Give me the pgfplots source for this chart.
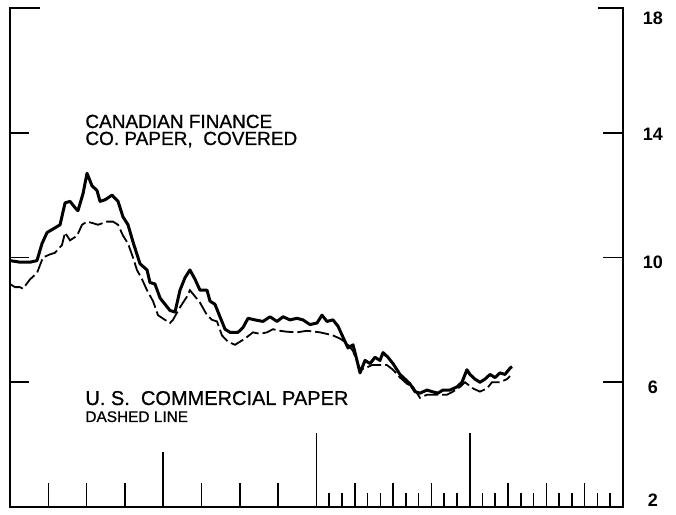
\documentclass[border=0pt]{standalone}
\usepackage{pgfplots}
\pgfplotsset{compat=1.18}
\usepackage{fontspec}
\setmainfont{Liberation Sans}
\newfontfamily\labelfont[FakeBold=0.8]{Liberation Sans}

\begin{document}
\begin{tikzpicture}
\begin{axis}[
  scale only axis, width=306.5pt, height=249.5pt,
  xmin=0, xmax=48, ymin=2, ymax=18,
  axis line style={draw=none},
  xtick=\empty, ytick=\empty,
  clip=false,
]
% Canadian finance co. paper, covered (solid)
\addplot[black, line width=1.5pt, line join=round] coordinates {
(0,9.9) (0.78,9.85) (1.57,9.85) (2.11,9.9) (2.51,10.45) (2.9,10.8) (3.52,10.95) (3.92,11.05)
(4.31,11.75) (4.7,11.8) (5.09,11.6) (5.32,11.5) (5.72,12.05) (6.03,12.7) (6.42,12.3) (6.81,12.15)
(7.05,11.8) (7.44,11.85) (7.99,12.0) (8.46,11.8) (8.85,11.3) (9.24,11.05) (9.63,10.5) (10.18,9.8)
(10.73,9.6) (10.96,9.2) (11.35,9.15) (11.75,8.7) (12.53,8.3) (12.92,8.25) (13.31,8.95) (13.7,9.35)
(14.09,9.6) (14.49,9.3) (14.88,8.95) (15.43,8.95) (15.66,8.6) (16.05,8.5) (16.44,8.1) (16.84,7.7)
(17.23,7.6) (17.85,7.6) (18.24,7.75) (18.64,8.05) (19.18,8.0) (19.81,7.95) (20.36,8.1) (20.91,7.95)
(21.38,8.1) (21.92,8.0) (22.47,8.05) (22.94,8.0) (23.49,7.85) (24.04,7.9) (24.43,8.15) (24.82,7.95)
(25.29,8.0) (25.68,7.8) (26.07,7.45) (26.47,7.1) (26.86,7.2) (27.17,6.7) (27.41,6.3) (27.8,6.7)
(28.19,6.6) (28.58,6.8) (28.97,6.7) (29.21,6.95) (29.6,6.8) (29.99,6.6) (30.54,6.25) (30.93,6.1)
(31.32,5.95) (31.71,5.7) (32.1,5.65) (32.65,5.75) (33.04,5.7) (33.51,5.65) (33.9,5.75) (34.45,5.75)
(35.0,5.85) (35.39,6.0) (35.78,6.4) (36.02,6.25) (36.41,6.1) (36.8,6.0) (37.19,6.1) (37.59,6.25)
(37.98,6.15) (38.37,6.3) (38.76,6.25) (39.15,6.45) (39.31,6.5)
};
% U.S. commercial paper (dashed)
\addplot[black, line width=0.9pt, dash pattern=on 7pt off 2pt] coordinates {
(0,9.15) (0.39,9.05) (0.78,9.05) (1.02,9.0) (1.57,9.3) (2.11,9.5) (2.58,10.0) (3.13,10.1)
(3.52,10.15) (4.07,10.4) (4.31,10.8) (4.7,10.55) (5.25,10.7) (5.64,11.05) (6.03,11.15) (6.5,11.1)
(6.89,11.05) (7.6,11.15) (8.07,11.15) (8.46,11.05) (8.85,10.7) (9.24,10.45) (9.63,10.0) (9.94,9.6)
(10.34,9.3) (10.73,8.95) (11.2,8.6) (11.59,8.15) (12.14,8.0) (12.53,7.9) (12.76,8.0) (13.31,8.4)
(13.86,8.75) (14.09,8.95) (14.49,8.75) (14.88,8.55) (15.43,8.15) (15.82,8.0) (16.21,7.95) (16.6,7.5)
(17.07,7.3) (17.62,7.2) (18.01,7.3) (18.4,7.4) (19.03,7.6) (19.58,7.55) (20.12,7.6) (20.59,7.7)
(21.14,7.65) (21.69,7.62) (22.47,7.6) (23.26,7.65) (24.27,7.6) (24.82,7.55) (25.29,7.5) (25.84,7.4)
(26.39,7.25) (26.86,7.0) (27.41,6.4) (27.8,6.45) (28.35,6.55) (28.97,6.55) (29.52,6.55) (29.99,6.4)
(30.54,6.15) (31.09,5.95) (31.56,5.85) (32.1,5.5) (32.65,5.6) (33.43,5.6) (34.22,5.6) (34.69,5.7)
(35.24,5.85) (35.63,6.0) (36.26,5.8) (36.8,5.7) (37.35,5.8) (37.74,6.0) (38.37,6.0) (38.92,6.1)
(39.15,6.2)
};
% frame
\draw[line width=1pt, line cap=rect] (axis cs:0,18) -- (axis cs:0,2) -- (axis cs:48,2) -- (axis cs:48,18);
\draw[line width=1pt] (axis cs:0,18) -- ++(15pt,0pt);
\draw[line width=1pt] (axis cs:48,18) -- ++(-12.5pt,0pt);
\pgfplotsinvokeforeach{6,10,14}{
  \draw[line width=0.8pt] (axis cs:0,#1) -- ++(9.5pt,0pt);
  \draw[line width=0.8pt] (axis cs:48,#1) -- ++(-10pt,0pt);
}
% bottom ticks: quarterly section
\pgfplotsinvokeforeach{3,6,9,15,18,21}{
  \draw[line width=0.8pt] (axis cs:#1,2) -- ++(0pt,12pt);
}
\draw[line width=0.8pt] (axis cs:12,2) -- ++(0pt,27.5pt);
\draw[line width=0.8pt] (axis cs:24,2) -- ++(0pt,37pt);
\draw[line width=0.8pt] (axis cs:36,2) -- ++(0pt,37pt);
% monthly section
\pgfplotsinvokeforeach{25,26,28,29,31,32,34,35,37,38,40,41,43,44,46,47}{
  \draw[line width=0.8pt] (axis cs:#1,2) -- ++(0pt,7pt);
}
\pgfplotsinvokeforeach{27,30,33,39,42,45}{
  \draw[line width=0.8pt] (axis cs:#1,2) -- ++(0pt,12pt);
}
\end{axis}
% right-hand scale labels
\begin{scope}[every node/.style={font=\fontsize{9}{10}\selectfont\bfseries, inner sep=0pt, anchor=center}]
\node at (321.5pt,244.5pt) {18};
\node at (321.5pt,186.5pt) {14};
\node at (321.5pt,122.5pt) {10};
\node at (321.5pt,60pt) {6};
\node at (321.5pt,3.2pt) {2};
\end{scope}
% series labels
\node[anchor=base west, inner sep=0pt, font=\labelfont\fontsize{9.5}{11}\selectfont] at (37.5pt,189.5pt) {CANADIAN FINANCE};
\node[anchor=base west, inner sep=0pt, font=\labelfont\fontsize{9.5}{11}\selectfont] at (37.5pt,181pt) {CO.\ PAPER,\ \ COVERED};
\node[anchor=base west, inner sep=0pt, font=\labelfont\fontsize{10}{11}\selectfont] at (37.5pt,51pt) {U.\ S.\ \ COMMERCIAL PAPER};
\node[anchor=base west, inner sep=0pt, font=\labelfont\fontsize{7.7}{9}\selectfont] at (37.5pt,42.5pt) {DASHED LINE};
\pgfresetboundingbox
\path (-5pt,-4pt) rectangle (333pt,253.5pt);
\end{tikzpicture}
\end{document}
